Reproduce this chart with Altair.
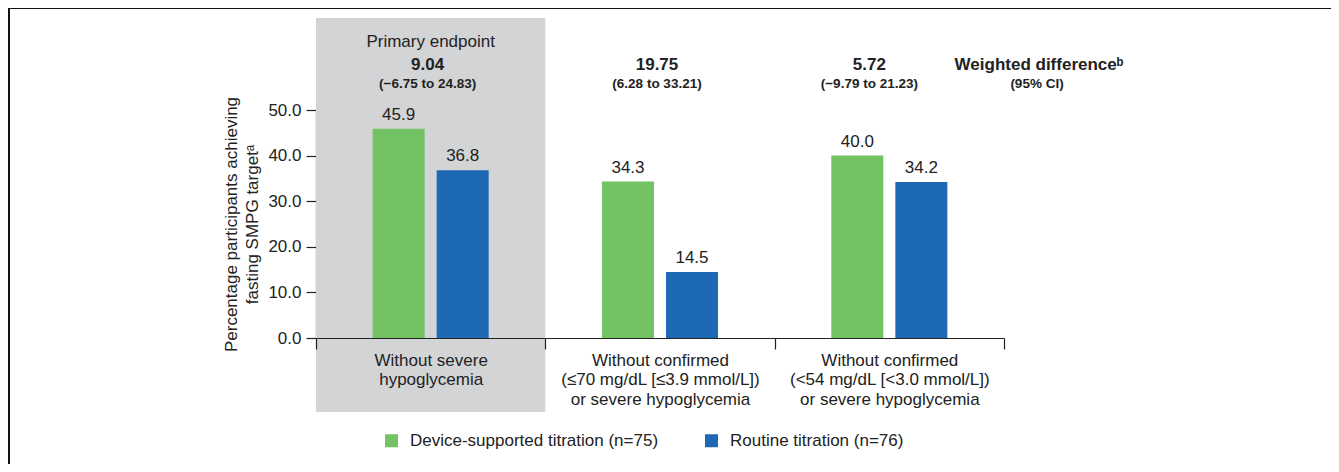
import altair as alt
import pandas as pd

categories = [
    "Without severe|hypoglycemia",
    "Without confirmed|(≤70 mg/dL [≤3.9 mmol/L])|or severe hypoglycemia",
    "Without confirmed|(<54 mg/dL [<3.0 mmol/L])|or severe hypoglycemia",
]
series = ["Device-supported titration (n=75)", "Routine titration (n=76)"]
device_values = [45.9, 34.3, 40.0]
routine_values = [36.8, 14.5, 34.2]
header_top = ["Primary endpoint", "", ""]
weighted_diff = ["9.04", "19.75", "5.72"]
ci_text = ["(−6.75 to 24.83)", "(6.28 to 33.21)", "(−9.79 to 21.23)"]
y_ticks = [0, 10, 20, 30, 40, 50]

GREEN = "#73C263"
BLUE = "#1D69B3"
GRAY = "#D3D4D6"
INK = "#222222"
FONT = "Liberation Sans"
FS = 17
FS_SMALL = 13.5

rows = []
for i, c in enumerate(categories):
    rows.append({"category": c, "series": series[0], "value": device_values[i]})
    rows.append({"category": c, "series": series[1], "value": routine_values[i]})
bars_df = pd.DataFrame(rows)

head_df = pd.DataFrame({
    "category": categories,
    "top": header_top,
    "diff": weighted_diff,
    "ci": ci_text,
    "idx": [0, 1, 2],
})

x_scale = alt.Scale(type="band", domain=categories, paddingInner=0, paddingOuter=0)
xo_scale = alt.Scale(domain=series, paddingInner=0.1875, paddingOuter=0.885)
y_scale = alt.Scale(domain=[0, 50], nice=False)

x_axis = alt.Axis(
    title=None, tickBand="extent", tickSize=11, tickColor=INK, tickWidth=1.2,
    domainColor=INK, domainWidth=1.2, labelExpr="split(datum.label, '|')",
    labelFontSize=FS, labelLineHeight=19.5, labelColor=INK, labelFont=FONT,
    labelLimit=400, labelPadding=3, labelAngle=0, labelBaseline="top", grid=False,
)
y_axis = alt.Axis(
    values=y_ticks, format=".1f", tickSize=10, tickColor=INK, tickWidth=1.2,
    domainColor=INK, domainWidth=1.2, labelFontSize=FS, labelColor=INK,
    labelFont=FONT, labelPadding=5, grid=False,
    title=["Percentage participants achieving", "fasting SMPG targetᵃ"],
    titleFontSize=FS, titleFont=FONT, titleColor=INK, titleFontWeight="normal",
    titlePadding=6, titleLineHeight=21,
)

gray_box = alt.Chart(head_df).transform_filter("datum.idx == 0").mark_rect(color=GRAY).encode(
    x=alt.X("category:N", scale=x_scale, axis=x_axis),
    y=alt.value(-92),
    y2=alt.value(302),
)

bars = alt.Chart(bars_df).mark_bar().encode(
    x=alt.X("category:N", scale=x_scale, axis=x_axis),
    xOffset=alt.XOffset("series:N", scale=xo_scale, sort=series),
    y=alt.Y("value:Q", scale=y_scale, axis=y_axis),
    color=alt.Color(
        "series:N", sort=series,
        scale=alt.Scale(domain=series, range=[GREEN, BLUE]),
        legend=alt.Legend(
            orient="none", legendX=67, legendY=322, direction="horizontal",
            title=None, symbolType="square", symbolSize=169, symbolStrokeWidth=0,
            labelFontSize=FS, labelFont=FONT, labelColor=INK, columnPadding=44,
            labelOffset=10, labelLimit=500,
        ),
    ),
)

value_labels = alt.Chart(bars_df).mark_text(
    fontSize=FS, font=FONT, color=INK, baseline="alphabetic", dy=-9
).encode(
    x=alt.X("category:N", scale=x_scale, axis=x_axis),
    xOffset=alt.XOffset("series:N", scale=xo_scale, sort=series),
    y=alt.Y("value:Q", scale=y_scale, axis=y_axis),
    text=alt.Text("value:Q", format=".1f"),
)

top_label = alt.Chart(head_df).transform_filter("datum.idx == 0").mark_text(
    fontSize=FS, font=FONT, color=INK, baseline="alphabetic"
).encode(
    x=alt.X("category:N", scale=x_scale, axis=x_axis),
    y=alt.value(-63),
    text="top:N",
)

diff_a = alt.Chart(head_df).transform_filter("datum.idx < 2").mark_text(
    fontSize=FS, font=FONT, color=INK, fontWeight="bold", baseline="alphabetic", dx=-3
).encode(
    x=alt.X("category:N", scale=x_scale, axis=x_axis),
    y=alt.value(-40),
    text="diff:N",
)
ci_a = alt.Chart(head_df).transform_filter("datum.idx < 2").mark_text(
    fontSize=FS_SMALL, font=FONT, color=INK, fontWeight="bold", baseline="alphabetic", dx=-3
).encode(
    x=alt.X("category:N", scale=x_scale, axis=x_axis),
    y=alt.value(-22),
    text="ci:N",
)
diff_b = alt.Chart(head_df).transform_filter("datum.idx == 2").mark_text(
    fontSize=FS, font=FONT, color=INK, fontWeight="bold", baseline="alphabetic", dx=-20
).encode(
    x=alt.X("category:N", scale=x_scale, axis=x_axis),
    y=alt.value(-40),
    text="diff:N",
)
ci_b = alt.Chart(head_df).transform_filter("datum.idx == 2").mark_text(
    fontSize=FS_SMALL, font=FONT, color=INK, fontWeight="bold", baseline="alphabetic", dx=-20
).encode(
    x=alt.X("category:N", scale=x_scale, axis=x_axis),
    y=alt.value(-22),
    text="ci:N",
)

legend_head = alt.Chart(alt.Data(values=[{"t1": "Weighted differenceᵇ", "t2": "(95% CI)"}]))
wd1 = legend_head.mark_text(
    fontSize=FS, font=FONT, color=INK, fontWeight="bold", baseline="alphabetic"
).encode(x=alt.value(723), y=alt.value(-40), text="t1:N")
wd2 = legend_head.mark_text(
    fontSize=FS_SMALL, font=FONT, color=INK, fontWeight="bold", baseline="alphabetic"
).encode(x=alt.value(721), y=alt.value(-22), text="t2:N")

frame_src = alt.Chart(alt.Data(values=[{"k": 1}]))
frame_top = frame_src.mark_rule(color="#111111", strokeWidth=2).encode(
    x=alt.value(-307), x2=alt.value(1020), y=alt.value(-102)
)
frame_left = frame_src.mark_rule(color="#111111", strokeWidth=2).encode(
    x=alt.value(-307), y=alt.value(-102), y2=alt.value(360)
)

chart = alt.layer(
    gray_box, bars, value_labels, top_label, diff_a, ci_a, diff_b, ci_b, wd1, wd2,
    frame_top, frame_left,
).properties(
    width=688, height=228,
    autosize=alt.AutoSizeParams(type="none"),
    padding={"left": 308, "top": 102, "right": 327, "bottom": 126},
    view=alt.ViewBackground(stroke="transparent", strokeWidth=0, strokeOpacity=0),
).configure(
    font=FONT,
    view=alt.ViewConfig(stroke="transparent", strokeWidth=0),
    style={"cell": {"stroke": "transparent", "strokeWidth": 0}},
)

chart.save("out.html", embed_options={"renderer": "svg", "actions": False})
